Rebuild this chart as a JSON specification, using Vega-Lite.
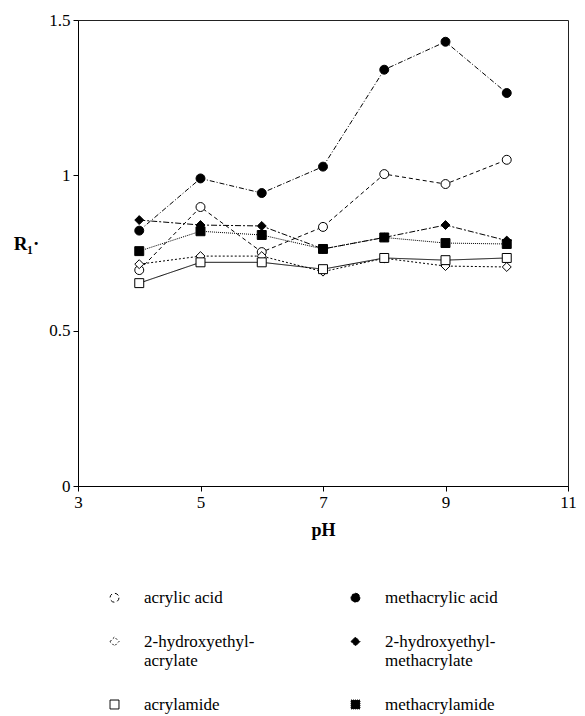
{
  "$schema": "https://vega.github.io/schema/vega-lite/v6.json",
  "width": 490,
  "height": 466,
  "autosize": {"type": "none"},
  "padding": {"left": 78, "top": 20, "right": 17, "bottom": 230},
  "background": "white",
  "config": {
    "font": "Liberation Serif",
    "view": {"stroke": "#222", "strokeWidth": 1},
    "axis": {"labelFont": "Liberation Serif", "labelFontSize": 17, "labelColor": "black", "domainColor": "black", "tickColor": "black", "grid": false, "titleFont": "Liberation Serif", "titleColor": "black"},
    "legend": {
      "title": null, "orient": "none", "legendX": 28, "legendY": 569, "columns": 2, "direction": "horizontal",
      "symbolSize": 80, "symbolStrokeColor": "black", "symbolStrokeWidth": 1, "symbolDash": [1, 0],
      "labelFont": "Liberation Serif", "labelFontSize": 17, "labelColor": "black", "labelOffset": 21, "labelLimit": 300,
      "columnPadding": 92, "rowPadding": 26, "padding": 0
    }
  },
  "data": {"values": [
    {"pH": 4, "R": 0.695, "s": "acrylic acid"},
    {"pH": 5, "R": 0.898, "s": "acrylic acid"},
    {"pH": 6, "R": 0.753, "s": "acrylic acid"},
    {"pH": 7, "R": 0.834, "s": "acrylic acid"},
    {"pH": 8, "R": 1.004, "s": "acrylic acid"},
    {"pH": 9, "R": 0.972, "s": "acrylic acid"},
    {"pH": 10, "R": 1.05, "s": "acrylic acid"},
    {"pH": 4, "R": 0.822, "s": "methacrylic acid"},
    {"pH": 5, "R": 0.99, "s": "methacrylic acid"},
    {"pH": 6, "R": 0.943, "s": "methacrylic acid"},
    {"pH": 7, "R": 1.028, "s": "methacrylic acid"},
    {"pH": 8, "R": 1.34, "s": "methacrylic acid"},
    {"pH": 9, "R": 1.43, "s": "methacrylic acid"},
    {"pH": 10, "R": 1.265, "s": "methacrylic acid"},
    {"pH": 4, "R": 0.714, "s": "2-hydroxyethyl-acrylate"},
    {"pH": 5, "R": 0.74, "s": "2-hydroxyethyl-acrylate"},
    {"pH": 6, "R": 0.74, "s": "2-hydroxyethyl-acrylate"},
    {"pH": 7, "R": 0.69, "s": "2-hydroxyethyl-acrylate"},
    {"pH": 8, "R": 0.733, "s": "2-hydroxyethyl-acrylate"},
    {"pH": 9, "R": 0.708, "s": "2-hydroxyethyl-acrylate"},
    {"pH": 10, "R": 0.705, "s": "2-hydroxyethyl-acrylate"},
    {"pH": 4, "R": 0.856, "s": "2-hydroxyethyl-methacrylate"},
    {"pH": 5, "R": 0.84, "s": "2-hydroxyethyl-methacrylate"},
    {"pH": 6, "R": 0.837, "s": "2-hydroxyethyl-methacrylate"},
    {"pH": 7, "R": 0.763, "s": "2-hydroxyethyl-methacrylate"},
    {"pH": 8, "R": 0.8, "s": "2-hydroxyethyl-methacrylate"},
    {"pH": 9, "R": 0.84, "s": "2-hydroxyethyl-methacrylate"},
    {"pH": 10, "R": 0.79, "s": "2-hydroxyethyl-methacrylate"},
    {"pH": 4, "R": 0.653, "s": "acrylamide"},
    {"pH": 5, "R": 0.72, "s": "acrylamide"},
    {"pH": 6, "R": 0.72, "s": "acrylamide"},
    {"pH": 7, "R": 0.698, "s": "acrylamide"},
    {"pH": 8, "R": 0.734, "s": "acrylamide"},
    {"pH": 9, "R": 0.727, "s": "acrylamide"},
    {"pH": 10, "R": 0.734, "s": "acrylamide"},
    {"pH": 4, "R": 0.756, "s": "methacrylamide"},
    {"pH": 5, "R": 0.82, "s": "methacrylamide"},
    {"pH": 6, "R": 0.808, "s": "methacrylamide"},
    {"pH": 7, "R": 0.763, "s": "methacrylamide"},
    {"pH": 8, "R": 0.8, "s": "methacrylamide"},
    {"pH": 9, "R": 0.782, "s": "methacrylamide"},
    {"pH": 10, "R": 0.779, "s": "methacrylamide"}
  ]},
  "encoding": {
    "x": {"field": "pH", "type": "quantitative", "scale": {"domain": [3, 11], "nice": false},
      "axis": {"values": [3, 5, 7, 9, 11], "title": "pH", "titleFontSize": 18, "titleFontWeight": "bold", "titleY": 44, "titleBaseline": "middle", "tickSize": 5, "labelPadding": 3, "labelFlush": false}},
    "y": {"field": "R", "type": "quantitative", "scale": {"domain": [0, 1.5], "nice": false},
      "axis": {"values": [0, 0.5, 1, 1.5], "labelExpr": "datum.value", "title": "R₁·", "titleAngle": 0, "titleX": -52, "titleY": 223, "titleAlign": "center", "titleBaseline": "middle", "titleFontSize": 19, "titleFontWeight": "bold", "tickSize": 5, "labelPadding": 3}}
  },
  "layer": [
    {
      "mark": {"type": "line", "color": "black", "strokeWidth": 1},
      "encoding": {
        "detail": {"field": "s"},
        "strokeDash": {"field": "s", "type": "nominal",
          "scale": {"domain": ["acrylic acid", "methacrylic acid", "2-hydroxyethyl-acrylate", "2-hydroxyethyl-methacrylate", "acrylamide", "methacrylamide"],
            "range": [[4, 3], [5, 2, 1, 2], [2, 2], [6, 2, 2, 2], [1, 0], [1, 1]]},
          "legend": {
            "labelExpr": "indexof(datum.label, 'hydroxyethyl-') >= 0 ? [slice(datum.label, 0, 15), slice(datum.label, 15)] : datum.label"
          }
        }
      }
    },
    {
      "mark": {"type": "point", "filled": true, "stroke": "black", "strokeWidth": 1, "opacity": 1, "size": 80},
      "encoding": {
        "shape": {"field": "s", "type": "nominal",
          "scale": {"domain": ["acrylic acid", "methacrylic acid", "2-hydroxyethyl-acrylate", "2-hydroxyethyl-methacrylate", "acrylamide", "methacrylamide"],
            "range": ["circle", "circle", "diamond", "diamond", "square", "square"]},
          "legend": null},
        "fill": {"field": "s", "type": "nominal", "legend": null,
          "scale": {"domain": ["acrylic acid", "methacrylic acid", "2-hydroxyethyl-acrylate", "2-hydroxyethyl-methacrylate", "acrylamide", "methacrylamide"],
            "range": ["white", "black", "white", "black", "white", "black"]}}
      }
    }
  ]
}
